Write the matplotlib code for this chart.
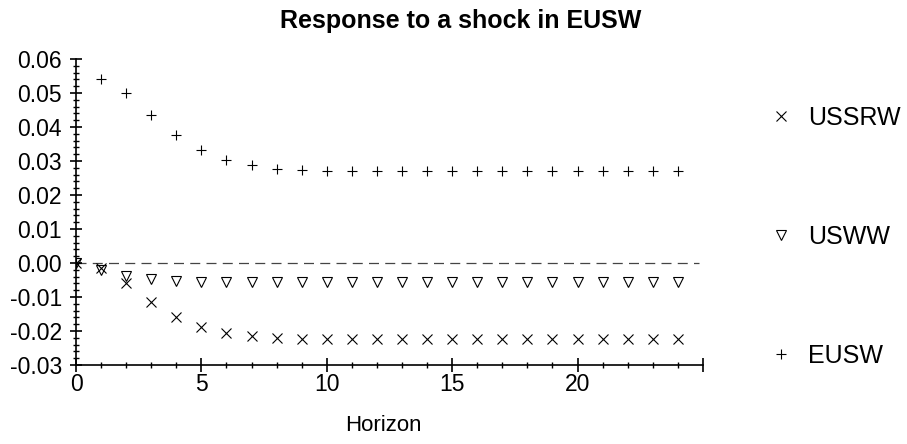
import matplotlib
matplotlib.use("Agg")
import matplotlib.pyplot as plt
from matplotlib.ticker import MultipleLocator, FormatStrFormatter

plt.rcParams['font.family'] = ['Liberation Sans', 'DejaVu Sans']
plt.rcParams['axes.unicode_minus'] = False

horizon = list(range(25))
ussrw = [0.0, -0.0015, -0.0060, -0.0114, -0.0158, -0.0188, -0.0205, -0.0216, -0.0222,
         -0.0224, -0.0225, -0.0225, -0.0225, -0.0225, -0.0225, -0.0225, -0.0225, -0.0225,
         -0.0225, -0.0225, -0.0225, -0.0225, -0.0225, -0.0225, -0.0225]
usww = [0.0, -0.0020, -0.0038, -0.0048, -0.0053, -0.0055, -0.0056, -0.0057, -0.0057,
        -0.0057, -0.0057, -0.0057, -0.0057, -0.0057, -0.0057, -0.0057, -0.0057, -0.0057,
        -0.0057, -0.0057, -0.0057, -0.0057, -0.0057, -0.0057, -0.0057]
eusw = [0.0, 0.0540, 0.0500, 0.0435, 0.0376, 0.0331, 0.0303, 0.0287, 0.0278,
        0.0274, 0.0272, 0.0272, 0.0272, 0.0272, 0.0272, 0.0272, 0.0272, 0.0272,
        0.0272, 0.0272, 0.0272, 0.0272, 0.0272, 0.0272, 0.0272]

fig = plt.figure(figsize=(9.07, 4.44), dpi=100)
ax = fig.add_axes([0.0838, 0.178, 0.775 - 0.0838, 0.867 - 0.178])

h1, = ax.plot(horizon, ussrw, linestyle='none', marker='x', ms=7, mew=0.8, color='black', label='USSRW')
h2, = ax.plot(horizon, usww, linestyle='none', marker='v', ms=7, mew=0.8, mfc='none', mec='black', label='USWW')
h3, = ax.plot(horizon, eusw, linestyle='none', marker='+', ms=7.5, mew=0.8, color='black', label='EUSW')
ax.plot([0, 24.85], [0, 0], color='#444444', lw=0.9, dashes=(8, 5), zorder=0)

ax.set_xlim(0, 25)
ax.set_ylim(-0.03, 0.06)
ax.spines['top'].set_visible(False)
ax.spines['right'].set_visible(False)
ax.spines['left'].set_linewidth(1.2)
ax.spines['bottom'].set_linewidth(1.2)

ax.set_xticks([0, 5, 10, 15, 20, 25])
ax.set_xticklabels(['0', '5', '10', '15', '20', ''])
ax.xaxis.set_minor_locator(MultipleLocator(1))
ax.yaxis.set_major_locator(MultipleLocator(0.01))
ax.yaxis.set_minor_locator(MultipleLocator(0.002))
ax.yaxis.set_major_formatter(FormatStrFormatter('%.2f'))
ax.tick_params(which='major', direction='inout', width=1.2, labelsize=16.5)
ax.tick_params(axis='x', which='major', length=10, pad=1)
ax.tick_params(axis='y', which='major', length=8, pad=6)
ax.tick_params(axis='x', which='minor', direction='inout', length=5, width=1.0)
ax.tick_params(axis='y', which='minor', direction='inout', length=4.5, width=1.0)

ax.set_xlabel('Horizon', fontsize=16)
ax.xaxis.set_label_coords(0.49, -0.165)
ax.set_title('Response to a shock in EUSW', fontsize=18, fontweight='bold', pad=22, x=0.614)

fig.legend(handles=[h1, h2, h3], loc='upper left', bbox_to_anchor=(0.822, 0.8125),
           frameon=False, fontsize=18, labelspacing=3.8, handlelength=1.0,
           handletextpad=0.6, borderpad=0.4)

fig.savefig('out.png', dpi=100)
